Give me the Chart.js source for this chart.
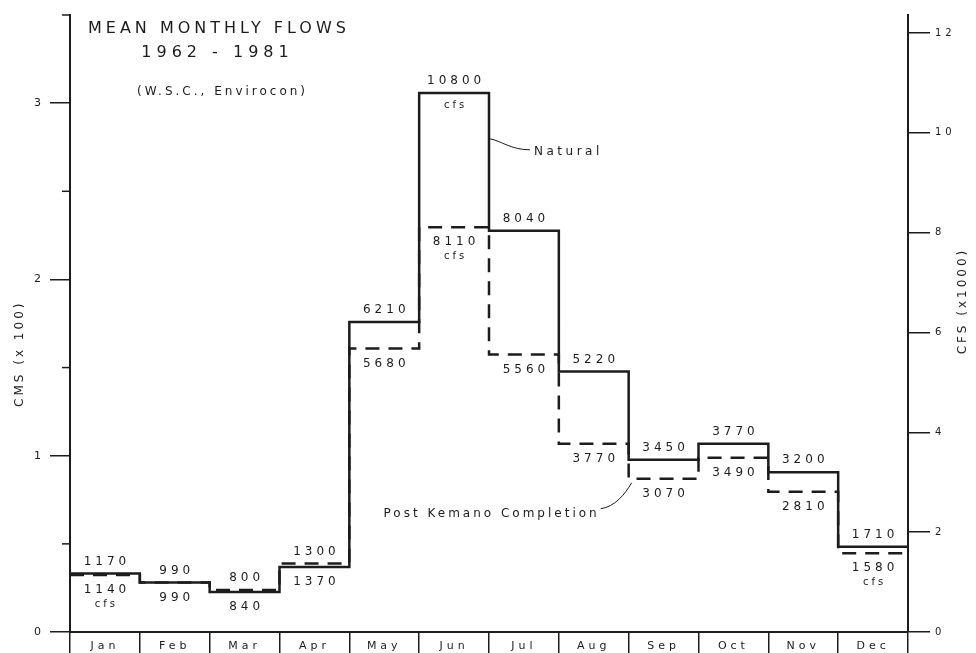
<!DOCTYPE html>
<html>
<head>
<meta charset="utf-8">
<title>Mean Monthly Flows 1962 - 1981</title>
<script src="https://cdn.jsdelivr.net/npm/chart.js@4.4.1/dist/chart.umd.min.js"></script>
<style>
    html, body { margin: 0; padding: 0; background: #fff; }
    #wrap { width: 976px; height: 653px; }
</style>
</head>
<body>
<div id="wrap"><canvas id="flowChart" width="976" height="653"></canvas></div>
<script>
// Mean monthly flows, values in cfs as printed on the chart
const months = ['Jan', 'Feb', 'Mar', 'Apr', 'May', 'Jun', 'Jul', 'Aug', 'Sep', 'Oct', 'Nov', 'Dec'];
const naturalCfs = [1170, 990, 800, 1300, 6210, 10800, 8040, 5220, 3450, 3770, 3200, 1710];
const postKemanoCfs = [1140, 990, 840, 1370, 5680, 8110, 5560, 3770, 3070, 3490, 2810, 1580];

// axis ticks
const cmsTicks = [0, 0.5, 1, 1.5, 2, 2.5, 3, 3.5];   // left, CMS x 100 (labels on whole numbers)
const cfsTicks = [0, 2, 4, 6, 8, 10, 12];             // right, CFS x 1000

// months where a "cfs" unit note sits under the printed value
const unitNotesNatural = ['Jun'];
const unitNotesPost = ['Jan', 'Jun', 'Dec'];

const CFS_PER_CMS = 35.3147;
const cmsMax = cmsTicks[cmsTicks.length - 1];
const cfsMax = cmsMax * 100 * CFS_PER_CMS;
const ink = '#1c1c1c';
const FONT = '"DejaVu Sans", sans-serif';

// a month's value holds from the start of the month to the start of the next
function stepPoints(values) {
    const pts = values.map((v, i) => ({ x: i, y: v }));
    pts.push({ x: values.length, y: values[values.length - 1] });
    return pts;
}

// draw text with letter spacing, correcting for the trailing space
function spaced(ctx, text, x, y, size, spacing, align = 'center') {
    ctx.font = size + 'px ' + FONT;
    ctx.letterSpacing = spacing + 'px';
    ctx.textAlign = align;
    const shift = align === 'center' ? spacing / 2 : align === 'right' ? spacing : 0;
    ctx.fillText(text, x + shift, y);
}

function spacedUp(ctx, text, x, y, size, spacing) {
    ctx.save();
    ctx.translate(x, y);
    ctx.rotate(-Math.PI / 2);
    spaced(ctx, text, 0, 0, size, spacing);
    ctx.restore();
}

const overlay = {
    id: 'overlay',
    beforeDraw(chart) {
        const ctx = chart.ctx;
        ctx.save();
        ctx.fillStyle = '#ffffff';
        ctx.fillRect(0, 0, chart.width, chart.height);
        ctx.restore();
        // stencil-like wide lettering for the axis tick labels
        ctx.letterSpacing = '4px';
    },
    afterDatasetsDraw(chart) {
        const { ctx, scales: { x, yCfs } } = chart;
        ctx.save();
        ctx.fillStyle = ink;
        ctx.textBaseline = 'middle';
        months.forEach((m, i) => {
            const cx = x.getPixelForValue(i + 0.5);
            const yN = yCfs.getPixelForValue(naturalCfs[i]);
            const yP = yCfs.getPixelForValue(postKemanoCfs[i]);
            const top = Math.min(yN, yP);
            const bottom = Math.max(yN, yP);
            spaced(ctx, String(naturalCfs[i]), cx, top - 12, 12, 4);
            spaced(ctx, String(postKemanoCfs[i]), cx, bottom + 15, 12, 4);
            if (unitNotesNatural.includes(m)) spaced(ctx, 'cfs', cx, yN + 13, 10, 3);
            if (unitNotesPost.includes(m)) spaced(ctx, 'cfs', cx, bottom + 29, 10, 3);
        });
        ctx.restore();
    },
    afterDraw(chart) {
        const { ctx, chartArea, scales: { x, yCms, yCfs } } = chart;
        ctx.save();
        ctx.fillStyle = ink;
        ctx.strokeStyle = ink;

        // short minor ticks on the left axis
        ctx.lineWidth = 1.5;
        yCms.ticks.forEach(t => {
            if (Number.isInteger(t.value)) return;
            const py = yCms.getPixelForValue(t.value);
            ctx.beginPath();
            ctx.moveTo(chartArea.left - 8, py);
            ctx.lineTo(chartArea.left, py);
            ctx.stroke();
        });

        // title block
        ctx.textBaseline = 'alphabetic';
        spaced(ctx, 'MEAN MONTHLY FLOWS', chartArea.left + 18, 33, 16, 4, 'left');
        spaced(ctx, '1962 - 1981', chartArea.left + 145, 57, 16, 5);
        spaced(ctx, '(W.S.C., Envirocon)', chartArea.left + 151, 95, 12, 3);

        // axis titles
        ctx.textBaseline = 'middle';
        spacedUp(ctx, 'CMS (x 100)', 20, yCms.getPixelForValue(1.57), 12, 3);
        spacedUp(ctx, 'CFS (x1000)', chart.width - 13, yCfs.getPixelForValue(6600), 12, 3);

        // "Natural" callout from the right edge of the June step
        const jx = x.getPixelForValue(6);
        const jy = yCfs.getPixelForValue(9880);
        ctx.lineWidth = 1;
        ctx.beginPath();
        ctx.moveTo(jx + 1, jy);
        ctx.bezierCurveTo(jx + 12, jy + 2, jx + 22, jy + 11, jx + 41, jy + 11);
        ctx.stroke();
        ctx.textBaseline = 'alphabetic';
        spaced(ctx, 'Natural', jx + 45, jy + 16, 12, 3.5, 'left');

        // "Post Kemano Completion" callout to the start of the September step
        const sx = x.getPixelForValue(8);
        const sy = yCfs.getPixelForValue(postKemanoCfs[8]);
        ctx.beginPath();
        ctx.moveTo(sx + 3, sy + 4);
        ctx.bezierCurveTo(sx - 4, sy + 16, sx - 14, sy + 28, sx - 28, sy + 30);
        ctx.stroke();
        spaced(ctx, 'Post Kemano Completion', sx - 32, sy + 38, 12, 3, 'right');
        ctx.restore();
    }
};

new Chart(document.getElementById('flowChart'), {
    type: 'line',
    data: {
        datasets: [
            {
                label: 'Natural',
                data: stepPoints(naturalCfs),
                xAxisID: 'x',
                yAxisID: 'yCfs',
                stepped: 'before',
                borderColor: ink,
                borderWidth: 2.5,
                pointRadius: 0,
                fill: false
            },
            {
                label: 'Post Kemano Completion',
                data: stepPoints(postKemanoCfs),
                xAxisID: 'x',
                yAxisID: 'yCfs',
                stepped: 'before',
                borderColor: ink,
                borderWidth: 2.5,
                borderDash: [14, 9],
                pointRadius: 0,
                fill: false
            }
        ]
    },
    options: {
        responsive: false,
        animation: false,
        layout: { padding: { top: 15 } },
        plugins: {
            legend: { display: false },
            tooltip: { enabled: false }
        },
        scales: {
            x: {
                type: 'linear',
                min: 0,
                max: months.length,
                display: false
            },
            xm: {
                type: 'category',
                labels: months,
                position: 'bottom',
                offset: true,
                grid: { offset: true, drawOnChartArea: false, tickLength: 21, color: ink, lineWidth: 1.5 },
                border: { display: true, color: ink, width: 2 },
                ticks: { color: ink, font: { family: FONT, size: 11 }, padding: -13, maxRotation: 0, autoSkip: false },
                afterFit: s => { s.height = 21; }
            },
            yCms: {
                type: 'linear',
                position: 'left',
                min: 0,
                max: cmsMax,
                grid: {
                    drawOnChartArea: false,
                    tickLength: 20,
                    lineWidth: 1.5,
                    tickColor: c => Number.isInteger(c.tick.value) ? ink : 'rgba(0,0,0,0)'
                },
                border: { display: true, color: ink, width: 2 },
                ticks: {
                    color: ink,
                    padding: 5,
                    font: { family: FONT, size: 11 },
                    callback: v => Number.isInteger(v) ? v : ''
                },
                afterBuildTicks: s => { s.ticks = cmsTicks.map(v => ({ value: v })); },
                afterFit: s => { s.width = 70; }
            },
            yCfs: {
                type: 'linear',
                position: 'right',
                min: 0,
                max: cfsMax,
                grid: { drawOnChartArea: false, tickLength: 22, lineWidth: 1.5, color: ink },
                border: { display: true, color: ink, width: 2 },
                ticks: {
                    color: ink,
                    padding: 5,
                    font: { family: FONT, size: 10 },
                    callback: v => v / 1000
                },
                afterBuildTicks: s => { s.ticks = cfsTicks.map(v => ({ value: v * 1000 })); },
                afterFit: s => { s.width = 68; }
            }
        }
    },
    plugins: [overlay]
});
</script>
</body>
</html>
